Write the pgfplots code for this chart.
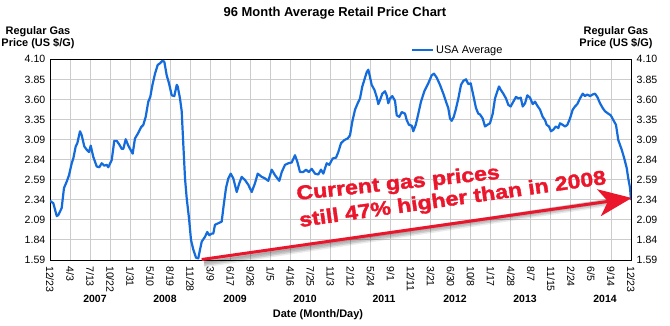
\documentclass[border=0pt]{standalone}
\usepackage{fontspec}
\setmainfont{Liberation Sans}
\usepackage{pgfplots}
\usepackage{pgfplotstable}
\pgfplotsset{compat=1.18}
\usetikzlibrary{arrows.meta}
\newfontface\annred[FakeBold=1.8,FakeStretch=1.16]{Liberation Sans Bold}
\definecolor{lineblue}{RGB}{20,108,220}
\definecolor{gridgray}{RGB}{204,204,204}
\definecolor{annred}{RGB}{236,22,44}

\pgfplotstableread{
m p
0.00 2.33
0.55 2.30
1.11 2.14
1.37 2.15
1.93 2.24
2.31 2.49
2.76 2.57
3.14 2.65
3.59 2.80
3.85 2.86
4.25 3.01
4.51 3.05
4.96 3.20
5.24 3.15
5.67 3.01
6.06 2.97
6.44 2.94
6.73 3.02
7.15 2.88
7.72 2.76
8.15 2.75
8.54 2.80
8.97 2.77
9.37 2.78
9.63 2.75
10.20 2.84
10.62 3.08
11.02 3.08
11.40 3.04
11.85 2.98
12.11 2.98
12.51 3.10
12.94 3.02
13.66 2.92
14.04 3.11
14.59 3.18
15.04 3.25
15.42 3.28
15.81 3.38
16.24 3.57
16.57 3.63
16.90 3.77
17.35 3.92
17.80 4.03
18.18 4.05
18.56 4.08
18.89 4.07
19.28 3.90
19.66 3.80
20.11 3.65
20.54 3.64
20.94 3.78
21.10 3.76
21.48 3.61
21.76 3.45
22.03 3.03
22.31 2.61
22.59 2.36
22.97 2.11
23.30 1.84
23.68 1.72
24.12 1.62
24.50 1.61
24.79 1.72
25.07 1.82
25.61 1.88
25.99 1.94
26.32 1.90
26.72 1.92
26.98 1.92
27.26 2.03
27.81 2.05
28.37 2.07
28.64 2.24
29.08 2.49
29.46 2.61
29.86 2.67
30.29 2.61
30.85 2.44
31.28 2.55
31.68 2.63
32.22 2.59
32.77 2.53
33.33 2.44
33.87 2.55
34.32 2.67
34.98 2.63
35.53 2.61
36.07 2.58
36.63 2.72
37.18 2.65
37.89 2.58
38.29 2.69
38.83 2.78
39.38 2.80
39.94 2.81
40.48 2.90
40.86 2.82
41.31 2.69
41.85 2.69
42.30 2.72
42.75 2.69
43.24 2.73
43.79 2.67
44.33 2.66
44.78 2.72
45.16 2.67
45.72 2.80
46.15 2.78
46.71 2.86
47.26 2.87
47.64 2.94
48.08 3.05
48.63 3.09
49.19 3.11
49.57 3.15
49.95 3.32
50.40 3.47
50.84 3.55
51.22 3.61
51.60 3.76
51.93 3.84
52.33 3.94
52.59 3.97
52.87 3.88
53.15 3.78
53.59 3.72
53.98 3.63
54.25 3.54
54.53 3.59
54.91 3.67
55.35 3.70
55.63 3.65
55.90 3.55
56.18 3.61
56.56 3.64
57.01 3.58
57.29 3.40
57.72 3.38
58.11 3.44
58.66 3.42
58.94 3.34
59.32 3.28
59.77 3.27
60.03 3.20
60.43 3.28
60.86 3.42
61.30 3.57
61.85 3.70
62.51 3.80
63.07 3.90
63.45 3.92
63.90 3.87
64.44 3.78
64.99 3.67
65.43 3.57
65.81 3.49
66.09 3.36
66.37 3.33
66.71 3.38
67.04 3.47
67.47 3.61
67.91 3.78
68.29 3.83
68.74 3.85
69.12 3.79
69.51 3.80
69.94 3.65
70.39 3.49
70.77 3.42
71.05 3.41
71.50 3.36
71.88 3.26
72.26 3.28
72.70 3.30
73.15 3.42
73.53 3.61
73.91 3.70
74.19 3.76
74.47 3.72
74.90 3.67
75.35 3.61
75.73 3.53
76.12 3.51
76.55 3.57
77.00 3.63
77.38 3.61
77.78 3.62
78.11 3.51
78.49 3.55
78.87 3.65
79.31 3.62
79.76 3.54
80.14 3.57
80.52 3.52
80.97 3.47
81.41 3.38
81.79 3.34
82.07 3.28
82.45 3.26
82.78 3.20
83.17 3.22
83.56 3.26
83.99 3.24
84.27 3.30
84.72 3.28
85.10 3.26
85.48 3.28
85.92 3.36
86.37 3.47
86.75 3.51
87.13 3.54
87.57 3.61
88.02 3.67
88.40 3.64
88.78 3.66
89.23 3.64
89.67 3.66
90.05 3.67
90.43 3.63
90.88 3.55
91.33 3.49
91.71 3.45
92.25 3.42
92.65 3.40
93.08 3.34
93.52 3.28
93.90 3.09
94.46 2.97
94.89 2.86
95.29 2.74
95.55 2.61
95.84 2.49
96.00 2.34
}\gasdata

\begin{document}
\begin{tikzpicture}[x=1bp,y=1bp]
\useasboundingbox[fill=white] (0,0) rectangle (670,325);
\begin{axis}[
  at={(50bp,65bp)}, anchor=south west,
  scale only axis, width=581bp, height=200.7bp,
  xmin=0, xmax=96, ymin=1.59, ymax=4.10,
  axis line style={black, line width=0.9bp},
  grid=major, grid style={gridgray, line width=0.9bp},
  major tick length=0pt,
  xtick={0,3.3103,6.6207,9.9310,13.2414,16.5517,19.8621,23.1724,26.4828,29.7931,33.1034,36.4138,39.7241,43.0345,46.3448,49.6552,52.9655,56.2759,59.5862,62.8966,66.2069,69.5172,72.8276,76.1379,79.4483,82.7586,86.0690,89.3793,92.6897,96},
  xticklabels={12/23,4/3,7/13,10/22,1/31,5/10,8/19,11/28,3/9,6/17,9/26,1/5,4/16,7/25,11/3,2/12,5/24,9/1,12/11,3/21,6/30,10/8,1/17,4/28,8/7,11/15,2/24,6/5,9/14,12/23},
  xticklabel style={rotate=-90, anchor=west, font=\fontsize{10.6}{12}\selectfont, inner sep=0pt, xshift=6bp},
  ytick={1.59,1.841,2.092,2.343,2.594,2.845,3.096,3.347,3.598,3.849,4.10},
  yticklabels={1.59,1.84,2.09,2.34,2.59,2.84,3.09,3.35,3.60,3.85,4.10},
  yticklabel style={font=\fontsize{10.6}{12}\selectfont, inner sep=0pt, xshift=-4.5bp},
  legend style={at={(axis description cs:0.621,1.046)}, anchor=west, draw=none, fill=none,
     font=\fontsize{11}{13}\selectfont, inner sep=0pt, nodes={inner sep=2bp}},
  legend image code/.code={\draw[#1] (0bp,0bp) -- (21bp,0bp);},
]
\addplot[lineblue, line width=2.2bp, line join=round] table[x=m,y=p]{\gasdata};
\addlegendentry{USA Average}
\end{axis}
\begin{axis}[
  at={(50bp,65bp)}, anchor=south west,
  scale only axis, width=581bp, height=200.7bp,
  xmin=0, xmax=96, ymin=1.59, ymax=4.10,
  hide x axis, axis y line*=right,
  axis line style={black, line width=0.9bp},
  major tick length=0pt,
  ytick={1.59,1.841,2.092,2.343,2.594,2.845,3.096,3.347,3.598,3.849,4.10},
  yticklabels={1.59,1.84,2.09,2.34,2.59,2.84,3.09,3.35,3.60,3.85,4.10},
  yticklabel style={font=\fontsize{10.6}{12}\selectfont, inner sep=0pt, xshift=5.5bp},
]
\end{axis}
% title and labels
\node[font=\bfseries\fontsize{13}{15}\selectfont] at (335,312) {96 Month Average Retail Price Chart};
\node[font=\bfseries\fontsize{11}{12.5}\selectfont, align=center] at (38,287.5) {Regular Gas\\Price (US \$/G)};
\node[font=\bfseries\fontsize{11}{12.5}\selectfont, align=center] at (616,287.5) {Regular Gas\\Price (US \$/G)};
\node[font=\bfseries\fontsize{11}{13}\selectfont] at (318,10) {Date (Month/Day)};
\foreach \yr/\xx in {2007/95,2008/165,2009/235,2010/305,2011/384,2012/455,2013/525,2014/605}
  \node[font=\bfseries\fontsize{10.5}{12}\selectfont] at (\xx,26) {\yr};
% arrow with shadow
\foreach \o/\op in {6/0.08,4.5/0.12,3/0.16,1.5/0.2}
  \draw[black, opacity=\op, line width=3bp] (204,65-\o) -- (620,128-\o);
\draw[annred, line width=3bp, -{Stealth[length=33bp,width=27bp,inset=9bp]}] (201.7,65.5) -- (631.7,127);
% annotation text
\node[anchor=base west, rotate=6, inner sep=0pt, text=annred] at (297,125) {\annred\fontsize{20}{24}\selectfont Current gas prices};
\node[anchor=base west, rotate=8, inner sep=0pt, text=annred] at (300,98) {\annred\fontsize{20}{24}\selectfont still 47\% higher than in 2008};
\end{tikzpicture}
\end{document}
